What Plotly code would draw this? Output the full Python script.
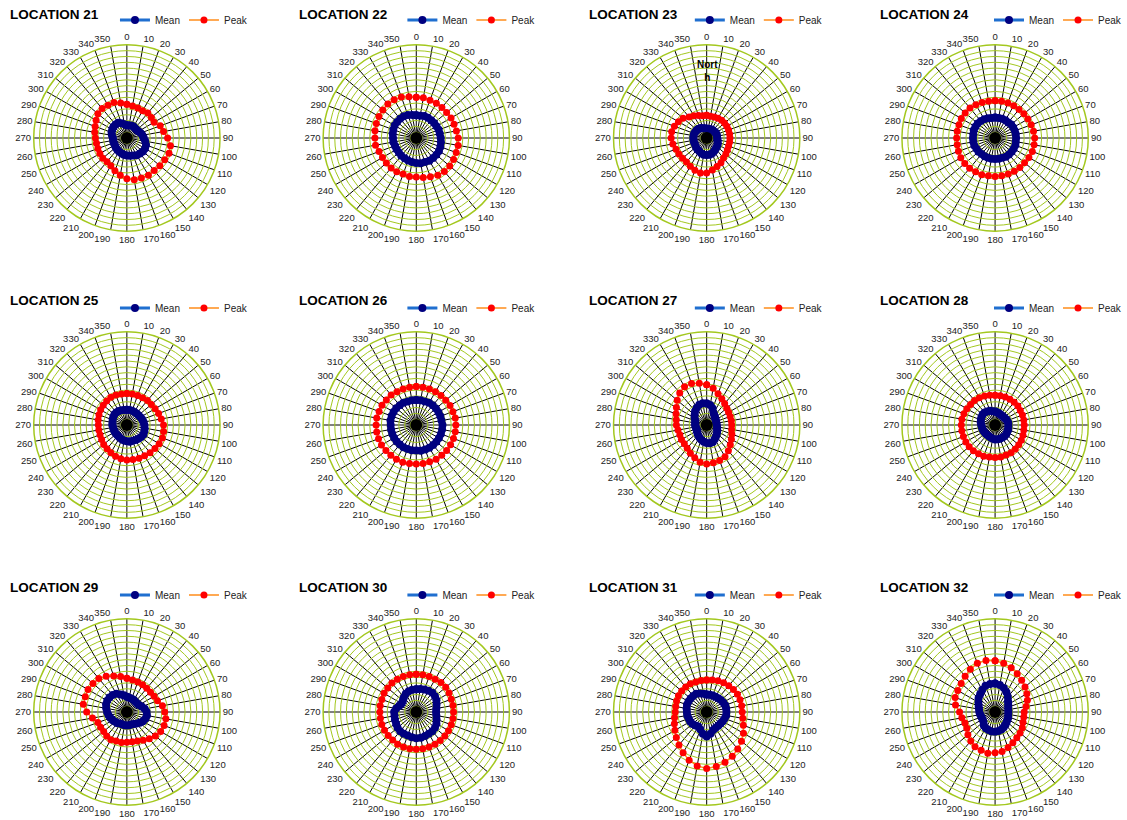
import plotly.graph_objects as go

# ---------------- data ----------------
angles = list(range(0, 360, 10))
angle_labels = [str(a) for a in angles]
locations = ["LOCATION 21", "LOCATION 22", "LOCATION 23", "LOCATION 24",
             "LOCATION 25", "LOCATION 26", "LOCATION 27", "LOCATION 28",
             "LOCATION 29", "LOCATION 30", "LOCATION 31", "LOCATION 32"]

mean_21 = [2.2, 2.2, 2.3, 2.3, 2.2, 2.2, 2.3, 2.5, 2.7, 2.9, 3.2, 3.5, 3.6, 3.6, 3.5, 3.4, 3.2, 3.1,
           3.0, 2.9, 2.8, 2.7, 2.6, 2.5, 2.4, 2.4, 2.4, 2.4, 2.6, 2.8, 2.9, 3.0, 3.0, 3.0, 2.7, 2.4]
peak_21 = [5.8, 5.6, 5.5, 5.4, 5.6, 5.5, 5.4, 6.1, 6.4, 7.0, 7.6, 7.7, 7.5, 7.4, 7.3, 7.4, 7.3, 7.3,
           7.0, 6.5, 6.0, 5.5, 5.3, 5.4, 5.35, 5.3, 5.3, 5.4, 5.6, 5.8, 6.1, 6.5, 6.6, 6.5, 6.5, 6.1]

mean_22 = [3.9, 3.9, 4.0, 4.0, 4.0, 4.0, 4.0, 4.1, 4.1, 4.2, 4.3, 4.4, 4.5, 4.5, 4.5, 4.5, 4.4, 4.4,
           4.3, 4.2, 4.1, 4.0, 4.0, 3.9, 3.9, 3.9, 4.0, 4.0, 4.1, 4.2, 4.3, 4.3, 4.3, 4.3, 4.2, 4.0]
peak_22 = [7.0, 7.0, 6.9, 6.9, 6.85, 6.8, 6.9, 6.9, 7.0, 7.2, 7.3, 7.3, 7.4, 7.5, 7.5, 7.4, 7.1, 6.9,
           6.7, 6.7, 6.6, 6.7, 6.7, 6.7, 6.7, 6.8, 7.1, 7.1, 7.2, 7.3, 7.4, 7.5, 7.6, 7.6, 7.5, 7.2]

mean_23 = [1.6, 1.6, 1.6, 1.7, 1.7, 1.7, 1.8, 1.8, 1.8, 1.8, 1.9, 2.0, 2.2, 2.3, 2.4, 2.6, 2.8, 2.9,
           2.9, 2.9, 2.8, 2.6, 2.5, 2.4, 2.3, 2.3, 2.3, 2.3, 2.3, 2.3, 2.2, 2.2, 2.1, 2.0, 1.8, 1.7]
peak_23 = [3.9, 3.8, 3.85, 3.9, 4.0, 4.0, 4.0, 4.0, 4.0, 4.0, 4.0, 4.0, 4.1, 4.3, 4.5, 4.9, 5.2, 5.6,
           6.0, 6.1, 5.9, 5.6, 5.4, 5.4, 5.5, 5.6, 5.9, 6.1, 6.1, 5.9, 5.6, 5.3, 4.7, 4.4, 4.1, 3.9]

mean_24 = [3.5, 3.5, 3.5, 3.5, 3.5, 3.6, 3.6, 3.6, 3.6, 3.6, 3.6, 3.7, 3.7, 3.7, 3.7, 3.7, 3.6, 3.6,
           3.6, 3.6, 3.6, 3.6, 3.6, 3.7, 3.7, 3.8, 3.8, 3.8, 3.8, 3.9, 3.9, 3.9, 3.8, 3.7, 3.6, 3.5]
peak_24 = [6.4, 6.4, 6.4, 6.4, 6.4, 6.45, 6.5, 6.6, 6.7, 6.8, 6.8, 6.8, 6.7, 6.6, 6.6, 6.6, 6.6, 6.6,
           6.6, 6.6, 6.7, 6.7, 6.8, 6.8, 6.8, 6.7, 6.6, 6.6, 6.6, 6.6, 6.7, 6.7, 6.7, 6.6, 6.5, 6.4]

mean_25 = [2.6, 2.6, 2.6, 2.6, 2.6, 2.6, 2.7, 2.8, 2.9, 3.0, 3.1, 3.2, 3.3, 3.2, 3.1, 3.0, 2.9, 2.9,
           2.8, 2.7, 2.6, 2.5, 2.4, 2.4, 2.4, 2.4, 2.4, 2.5, 2.5, 2.6, 2.7, 2.8, 2.8, 2.8, 2.7, 2.6]
peak_25 = [5.4, 5.4, 5.4, 5.4, 5.5, 5.5, 5.6, 5.8, 6.0, 6.3, 6.4, 6.5, 6.4, 6.3, 6.2, 6.1, 6.1, 6.0,
           6.0, 5.9, 5.7, 5.5, 5.3, 5.2, 5.0, 4.9, 4.9, 4.9, 5.0, 5.1, 5.2, 5.3, 5.4, 5.5, 5.5, 5.4]

mean_26 = [4.3, 4.3, 4.3, 4.4, 4.4, 4.4, 4.4, 4.4, 4.4, 4.5, 4.5, 4.5, 4.5, 4.5, 4.5, 4.5, 4.5, 4.5,
           4.4, 4.4, 4.4, 4.4, 4.4, 4.4, 4.4, 4.4, 4.4, 4.4, 4.5, 4.5, 4.5, 4.5, 4.4, 4.4, 4.3, 4.3]
peak_26 = [6.6, 6.6, 6.6, 6.6, 6.6, 6.6, 6.7, 6.7, 6.8, 6.8, 6.8, 6.8, 6.8, 6.8, 6.8, 6.8, 6.7, 6.7,
           6.7, 6.7, 6.8, 6.8, 6.8, 6.8, 6.9, 6.9, 6.9, 6.9, 6.9, 6.8, 6.8, 6.7, 6.7, 6.6, 6.6, 6.6]

mean_27 = [3.7, 3.5, 3.0, 2.4, 2.1, 1.9, 1.8, 1.7, 1.7, 1.7, 1.8, 1.9, 2.1, 2.3, 2.5, 2.8, 3.1, 3.2,
           3.1, 2.9, 2.7, 2.5, 2.3, 2.1, 1.9, 1.9, 1.9, 2.0, 2.0, 2.1, 2.4, 2.7, 3.1, 3.4, 3.7, 3.8]
peak_27 = [6.9, 6.4, 5.7, 5.2, 4.8, 4.5, 4.35, 4.3, 4.3, 4.3, 4.35, 4.6, 4.9, 5.3, 5.8, 6.3, 6.5, 6.6,
           6.7, 6.5, 6.0, 5.6, 5.2, 5.0, 5.0, 4.9, 5.0, 5.2, 5.3, 5.6, 6.0, 6.6, 7.2, 7.6, 7.6, 7.3]

mean_28 = [2.3, 2.2, 2.1, 2.0, 2.0, 2.0, 2.1, 2.2, 2.3, 2.3, 2.3, 2.4, 2.4, 2.5, 2.5, 2.5, 2.5, 2.5,
           2.5, 2.4, 2.3, 2.2, 2.2, 2.2, 2.2, 2.3, 2.3, 2.4, 2.5, 2.6, 2.7, 2.8, 2.8, 2.7, 2.6, 2.4]
peak_28 = [5.1, 5.1, 5.1, 5.1, 5.1, 5.1, 5.0, 5.0, 5.0, 5.0, 5.0, 5.1, 5.2, 5.3, 5.4, 5.5, 5.5, 5.6,
           5.6, 5.6, 5.7, 5.7, 5.8, 5.8, 5.8, 5.8, 5.8, 5.8, 5.8, 5.7, 5.6, 5.5, 5.5, 5.4, 5.3, 5.2]

mean_29 = [2.6, 2.5, 2.4, 2.4, 2.3, 2.3, 2.4, 2.7, 3.1, 3.4, 3.5, 3.4, 3.2, 2.9, 2.6, 2.4, 2.3, 2.3,
           2.3, 2.3, 2.3, 2.3, 2.5, 2.6, 2.8, 3.0, 3.2, 3.4, 3.6, 3.8, 3.9, 3.9, 3.8, 3.6, 3.2, 2.9]
peak_29 = [5.8, 5.6, 5.5, 5.4, 5.3, 5.3, 5.4, 5.6, 6.2, 6.5, 6.8, 6.8, 6.7, 6.4, 6.0, 5.6, 5.3, 5.2,
           5.2, 5.3, 5.3, 5.5, 5.4, 5.2, 5.2, 5.3, 6.0, 6.9, 7.6, 7.6, 7.7, 7.6, 7.5, 7.1, 6.6, 6.2]

mean_30 = [3.9, 4.0, 4.1, 4.2, 4.3, 4.2, 4.0, 3.7, 3.5, 3.4, 3.5, 3.7, 4.0, 4.2, 4.3, 4.3, 4.4, 4.5,
           4.5, 4.4, 4.3, 4.3, 4.3, 4.2, 4.0, 3.9, 3.8, 3.8, 3.5, 3.1, 2.9, 3.0, 3.3, 3.6, 3.8, 3.9]
peak_30 = [6.5, 6.5, 6.5, 6.5, 6.6, 6.6, 6.5, 6.4, 6.4, 6.4, 6.4, 6.4, 6.4, 6.4, 6.4, 6.4, 6.4, 6.4,
           6.4, 6.4, 6.4, 6.4, 6.3, 6.3, 6.3, 6.3, 6.25, 6.25, 6.3, 6.3, 6.4, 6.4, 6.5, 6.5, 6.5, 6.5]

mean_31 = [3.0, 3.0, 3.0, 3.0, 3.1, 3.2, 3.3, 3.4, 3.4, 3.4, 3.4, 3.3, 3.2, 3.1, 3.1, 3.1, 3.3, 3.8,
           4.2, 3.8, 3.2, 2.9, 3.0, 3.2, 3.3, 3.3, 3.4, 3.4, 3.5, 3.6, 3.6, 3.6, 3.6, 3.6, 3.4, 3.2]
peak_31 = [5.5, 5.6, 5.7, 5.8, 5.9, 6.0, 6.1, 6.1, 6.1, 6.1, 6.3, 6.7, 7.3, 7.8, 8.3, 8.8, 9.2, 9.5,
           9.7, 9.4, 8.8, 8.1, 7.4, 6.8, 6.3, 5.9, 5.6, 5.4, 5.4, 5.5, 5.6, 5.6, 5.6, 5.6, 5.5, 5.5]

mean_32 = [4.9, 4.7, 4.4, 3.9, 3.4, 2.9, 2.6, 2.4, 2.3, 2.3, 2.3, 2.4, 2.5, 2.6, 2.8, 3.0, 3.2, 3.3,
           3.4, 3.4, 3.3, 3.2, 3.0, 2.6, 2.5, 2.5, 2.6, 2.7, 2.8, 3.0, 3.3, 3.7, 4.0, 4.4, 4.8, 4.9]
peak_32 = [8.8, 8.5, 8.1, 7.6, 7.1, 6.7, 6.3, 5.9, 5.4, 5.0, 5.0, 5.1, 5.4, 5.6, 5.8, 6.1, 6.5, 6.9,
           7.0, 7.2, 7.0, 6.9, 6.5, 6.1, 5.6, 5.5, 5.8, 6.1, 6.9, 7.3, 7.4, 7.6, 8.0, 8.5, 8.9, 9.0]

means = [mean_21, mean_22, mean_23, mean_24, mean_25, mean_26,
         mean_27, mean_28, mean_29, mean_30, mean_31, mean_32]
peaks = [peak_21, peak_22, peak_23, peak_24, peak_25, peak_26,
         peak_27, peak_28, peak_29, peak_30, peak_31, peak_32]

# ---------------- layout geometry ----------------
W, H = 1127, 820
col_cx = [128, 420, 713, 1004]
row_cy = [138, 425, 712]
R = 94
title_x = [8, 300, 592, 886]
title_y = [14, 300, 587]
legend_y = [20, 308, 595]
legend_x = [116, 406, 696, 998]
FONT = "Liberation Sans, Arial, sans-serif"
GREEN = "#A3C81E"

fig = go.Figure()
annotations = []
layout_extra = {}

for i in range(12):
    row, col = divmod(i, 4)
    sfx = "" if i == 0 else str(i + 1)
    polar = "polar" + sfx
    legend = "legend" + sfx
    th = angles + [angles[0]]
    m = means[i] + [means[i][0]]
    p = peaks[i] + [peaks[i][0]]

    fig.add_trace(go.Scatterpolar(
        r=m, theta=th, mode="lines+markers", name="Mean",
        line=dict(color="#1F6FD0", width=3),
        marker=dict(color="#000080", size=8),
        subplot=polar, legend=legend))
    fig.add_trace(go.Scatterpolar(
        r=p, theta=th, mode="lines+markers", name="Peak",
        line=dict(color="#FF8C1A", width=1.5),
        marker=dict(color="#FF0000", size=7),
        subplot=polar, legend=legend))
    fig.add_trace(go.Scatterpolar(
        r=[0], theta=[0], mode="markers", marker=dict(color="black", size=12),
        showlegend=False, hoverinfo="skip", subplot=polar))

    cx, cy = col_cx[col], row_cy[row]
    layout_extra[polar] = dict(
        domain=dict(x=[(cx - R) / W, (cx + R) / W], y=[1 - (cy + R) / H, 1 - (cy - R) / H]),
        bgcolor="white",
        angularaxis=dict(
            rotation=90, direction="clockwise",
            tickmode="array", tickvals=angles, ticktext=angle_labels,
            showgrid=True, gridcolor="black", gridwidth=1.2,
            showline=True, linecolor=GREEN, linewidth=1.5,
            ticks="", tickfont=dict(size=9.5, color="#222", family=FONT)),
        radialaxis=dict(
            range=[0, 16], dtick=1, showticklabels=False, ticks="",
            showgrid=True, gridcolor=GREEN, gridwidth=1,
            showline=False),
    )
    layout_extra[legend] = dict(
        x=legend_x[col] / W, y=1 - legend_y[row] / H,
        xanchor="left", yanchor="middle", orientation="h",
        font=dict(size=10, color="#222", family=FONT),
        bgcolor="rgba(0,0,0,0)", itemwidth=30, entrywidth=24,
    )
    annotations.append(dict(
        x=title_x[col] / W, y=1 - title_y[row] / H, xref="paper", yref="paper",
        xanchor="left", yanchor="middle", showarrow=False,
        text="<b>" + locations[i] + "</b>",
        font=dict(size=13.5, color="black", family=FONT)))

annotations.append(dict(
    x=714 / W, y=1 - 71 / H, xref="paper", yref="paper",
    xanchor="center", yanchor="middle", showarrow=False,
    text="<b>Nort<br>h</b>", font=dict(size=10, color="black", family=FONT)))

fig.update_layout(
    width=W, height=H, margin=dict(l=0, r=0, t=0, b=0),
    paper_bgcolor="white", plot_bgcolor="white",
    showlegend=True, annotations=annotations, **layout_extra)

fig.write_html("out.html", config={"displayModeBar": False},
               post_script="document.body.style.margin='0px';document.body.style.padding='0px';")
